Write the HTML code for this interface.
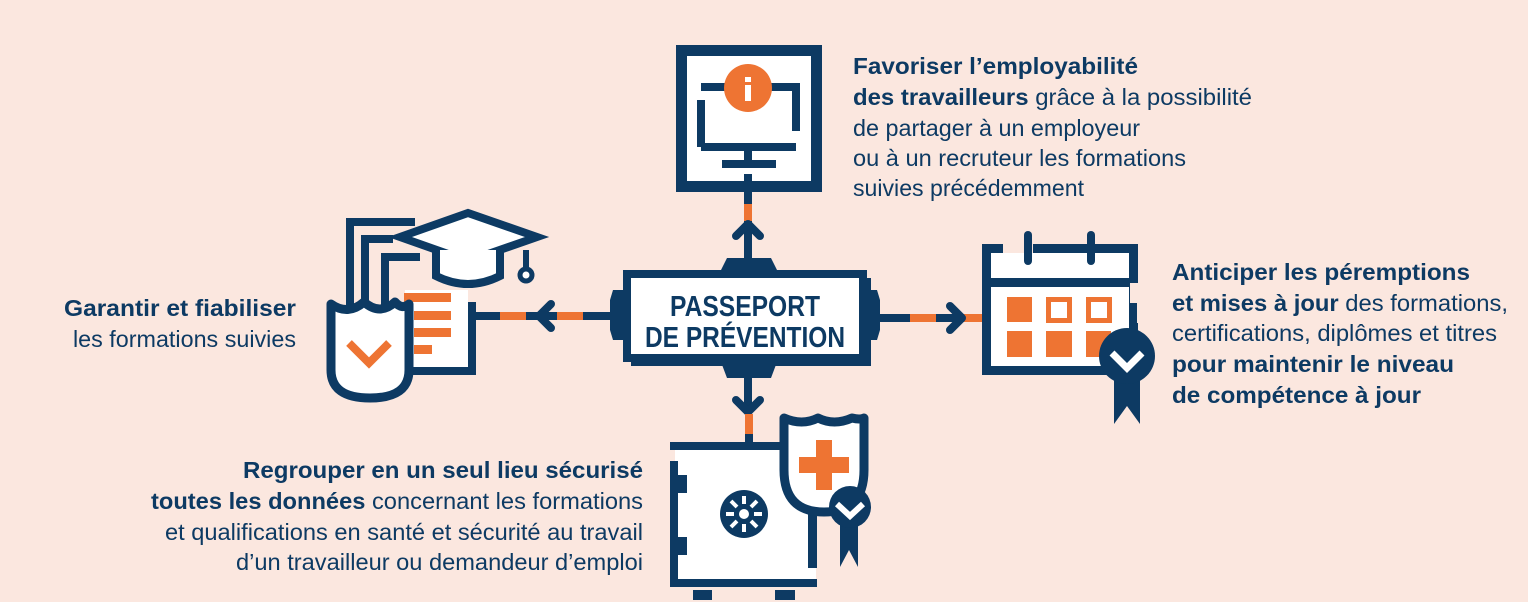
<!DOCTYPE html>
<html><head><meta charset="utf-8"><style>
html,body{margin:0;padding:0;background:#fbe7df;}
svg{display:block}
text{font-family:"Liberation Sans",sans-serif;font-size:23px;fill:#0d3a63;}
.b{font-weight:bold}
</style></head><body>
<svg width="1528" height="602" viewBox="0 0 1528 602" xmlns="http://www.w3.org/2000/svg">
<rect width="1528" height="602" fill="#fbe7df"/>
<g stroke-linecap="butt">
<!-- top monitor -->
<rect x="681.5" y="50.5" width="135" height="136" fill="#fff" stroke="#0d3a63" stroke-width="11"/>
<path d="M701 147 V100 M701 87 H727 M770 87 H796 V131 M701 147 H796" fill="none" stroke="#0d3a63" stroke-width="8"/>
<rect x="744" y="147" width="8" height="17" fill="#0d3a63"/>
<rect x="722" y="160" width="54" height="8" fill="#0d3a63"/>
<rect x="744" y="174" width="8" height="18" fill="#0d3a63"/>
<circle cx="748" cy="88" r="24" fill="#ee7433"/>
<rect x="745" y="77" width="6" height="5" fill="#fff"/><rect x="745" y="85" width="6" height="16" fill="#fff"/>
<!-- top connector -->
<rect x="744" y="192" width="8" height="12" fill="#0d3a63"/>
<rect x="744" y="204" width="8" height="17" fill="#ee7433"/>
<rect x="744" y="221" width="8" height="40" fill="#0d3a63"/>
<path d="M736 236 L748 224 L760 236" fill="none" stroke="#0d3a63" stroke-width="8" stroke-linecap="round" stroke-linejoin="round"/>
<!-- central box -->
<path d="M727 258 H771 L777 270 H721 Z" fill="#0d3a63"/>
<path d="M721 362 H777 L771 378 H727 Z" fill="#0d3a63"/>
<path d="M623 290 H613 L610 300 V330 L613 340 H623 Z" fill="#0d3a63"/>
<path d="M867 290 H877 L880 300 V330 L877 340 H867 Z" fill="#0d3a63"/>
<rect x="596" y="312" width="20" height="8" fill="#0d3a63"/>
<rect x="880" y="314" width="20" height="8" fill="#0d3a63"/>
<rect x="631" y="278" width="240" height="88" fill="#0d3a63"/>
<rect x="627" y="274" width="236" height="84" fill="#fff" stroke="#0d3a63" stroke-width="8"/>
<text x="745" y="316" text-anchor="middle" class="b" style="font-size:29px" textLength="150" lengthAdjust="spacingAndGlyphs">PASSEPORT</text>
<text x="745" y="347" text-anchor="middle" class="b" style="font-size:29px" textLength="200" lengthAdjust="spacingAndGlyphs">DE PRÉVENTION</text>
<!-- left connector -->
<rect x="475" y="312" width="25" height="8" fill="#0d3a63"/>
<rect x="500" y="312" width="26" height="8" fill="#ee7433"/>
<rect x="526" y="312" width="31" height="8" fill="#0d3a63"/>
<rect x="557" y="312" width="26" height="8" fill="#ee7433"/>
<rect x="583" y="312" width="15" height="8" fill="#0d3a63"/>
<path d="M551 304 L539 316 L551 328" fill="none" stroke="#0d3a63" stroke-width="8" stroke-linecap="round" stroke-linejoin="round"/>
<!-- left icon: doc -->
<path d="M350 305 V222 H415 M365 305 V239 H393 M385 305 V257 H420" fill="none" stroke="#0d3a63" stroke-width="8"/>
<path d="M405 290 H468 V368 H405 Z" fill="#fff"/>
<path d="M472 302 V371 H410" fill="none" stroke="#0d3a63" stroke-width="8"/>
<rect x="404" y="293" width="47" height="9" fill="#ee7433"/>
<rect x="414" y="311" width="37" height="9" fill="#ee7433"/>
<rect x="414" y="328" width="37" height="9" fill="#ee7433"/>
<rect x="414" y="345" width="18" height="9" fill="#ee7433"/>
<!-- cap -->
<path d="M400 237 L468 213 L537 237 L468 261 Z" fill="#fff" stroke="#0d3a63" stroke-width="8" stroke-linejoin="miter"/>
<path d="M436 250 V276 Q468 292 500 276 V250" fill="#fff" stroke="#0d3a63" stroke-width="8"/>
<path d="M526 250 V270" stroke="#0d3a63" stroke-width="6"/>
<circle cx="526" cy="275" r="6" fill="#fff" stroke="#0d3a63" stroke-width="5"/>
<!-- shield -->
<path d="M331 304 Q348 316 364 302 Q380 316 395 302 Q402 310 409 304 V370 Q409 398 370 398 Q331 398 331 370 Z" fill="#fff" stroke="#0d3a63" stroke-width="9" stroke-linejoin="round"/>
<path d="M349 343 L369 363 L389 343" fill="none" stroke="#ee7433" stroke-width="8"/>
<!-- right connector -->
<rect x="900" y="314" width="10" height="8" fill="#0d3a63"/>
<rect x="910" y="314" width="26" height="8" fill="#ee7433"/>
<rect x="936" y="314" width="28" height="8" fill="#0d3a63"/>
<rect x="964" y="314" width="18" height="8" fill="#ee7433"/>
<path d="M950 306 L962 318 L950 330" fill="none" stroke="#0d3a63" stroke-width="8" stroke-linecap="round" stroke-linejoin="round"/>
<!-- calendar -->
<rect x="986.5" y="248.5" width="147" height="122" fill="#fff" stroke="#0d3a63" stroke-width="9"/>
<rect x="1003" y="243" width="30" height="10" fill="#fbe7df"/>
<rect x="982" y="278" width="156" height="9" fill="#0d3a63"/>
<line x1="1028" y1="235" x2="1028" y2="261" stroke="#0d3a63" stroke-width="8" stroke-linecap="round"/>
<line x1="1091" y1="235" x2="1091" y2="261" stroke="#0d3a63" stroke-width="8" stroke-linecap="round"/>
<rect x="1007" y="297" width="25" height="25" fill="#ee7433"/>
<rect x="1048.5" y="299.5" width="21" height="21" fill="#fff" stroke="#ee7433" stroke-width="5"/>
<rect x="1088.5" y="299.5" width="21" height="21" fill="#fff" stroke="#ee7433" stroke-width="5"/>
<rect x="1007" y="331" width="25" height="26" fill="#ee7433"/>
<rect x="1046" y="331" width="26" height="26" fill="#ee7433"/>
<rect x="1086" y="331" width="25" height="26" fill="#ee7433"/>
<rect x="1130" y="283" width="10" height="40" fill="#fbe7df"/>
<rect x="1129" y="303" width="8" height="30" fill="#0d3a63"/>
<path d="M1114 370 V424 L1127 406 L1140 424 V370 Z" fill="#0d3a63"/>
<circle cx="1127" cy="356" r="28" fill="#0d3a63"/>
<path d="M1112 353 L1127 368 L1142 353" fill="none" stroke="#fff" stroke-width="7"/>
<!-- bottom connector -->
<rect x="744" y="378" width="8" height="30" fill="#0d3a63"/>
<path d="M736 400 L748 412 L760 400" fill="none" stroke="#0d3a63" stroke-width="8" stroke-linecap="round" stroke-linejoin="round"/>
<rect x="745" y="414" width="8" height="20" fill="#ee7433"/>
<rect x="745" y="434" width="8" height="8" fill="#0d3a63"/>
<!-- safe -->
<rect x="675" y="446" width="141" height="137" fill="#fff"/>
<rect x="670" y="442" width="120" height="8" fill="#0d3a63"/>
<rect x="670" y="461" width="8" height="126" fill="#0d3a63"/>
<rect x="670" y="475" width="17" height="18" fill="#0d3a63"/>
<rect x="670" y="537" width="17" height="18" fill="#0d3a63"/>
<rect x="670" y="579" width="147" height="8" fill="#0d3a63"/>
<rect x="808" y="510" width="9" height="58" fill="#0d3a63"/>
<rect x="693" y="590" width="19" height="10" fill="#0d3a63"/>
<rect x="775" y="590" width="20" height="10" fill="#0d3a63"/>
<circle cx="744" cy="514" r="24" fill="#0d3a63"/>
<g stroke="#fff" stroke-width="4">
<line x1="744" y1="496" x2="744" y2="504"/><line x1="744" y1="524" x2="744" y2="532"/>
<line x1="726" y1="514" x2="734" y2="514"/><line x1="754" y1="514" x2="762" y2="514"/>
<line x1="731" y1="501" x2="737" y2="507"/><line x1="751" y1="521" x2="757" y2="527"/>
<line x1="757" y1="501" x2="751" y2="507"/><line x1="737" y1="521" x2="731" y2="527"/>
</g>
<circle cx="744" cy="514" r="5" fill="#fff"/>
<!-- med shield -->
<path d="M784 418 Q802 426 818 418 Q834 426 852 418 Q860 420 864 418 V470 Q864 512 824 512 Q784 512 784 470 Z" fill="#fff" stroke="#0d3a63" stroke-width="9" stroke-linejoin="round"/>
<rect x="816" y="440" width="16" height="50" fill="#ee7433"/>
<rect x="799" y="457" width="50" height="16" fill="#ee7433"/>
<path d="M840 515 V567 L849 550 L858 567 V515 Z" fill="#0d3a63"/>
<circle cx="850" cy="507" r="21" fill="#0d3a63"/>
<path d="M837 504 L850 516 L863 504" fill="none" stroke="#fff" stroke-width="6"/>
</g>
<!-- texts -->
<text x="853" y="74" class="b" textLength="285" lengthAdjust="spacingAndGlyphs">Favoriser l’employabilité</text>
<text x="853" y="105" textLength="399" lengthAdjust="spacingAndGlyphs"><tspan class="b">des travailleurs</tspan> grâce à la possibilité</text>
<text x="853" y="136" textLength="287" lengthAdjust="spacingAndGlyphs">de partager à un employeur</text>
<text x="853" y="166" textLength="333" lengthAdjust="spacingAndGlyphs">ou à un recruteur les formations</text>
<text x="853" y="196" textLength="231" lengthAdjust="spacingAndGlyphs">suivies précédemment</text>

<text x="1172" y="280" class="b" textLength="298" lengthAdjust="spacingAndGlyphs">Anticiper les péremptions</text>
<text x="1172" y="311" textLength="336" lengthAdjust="spacingAndGlyphs"><tspan class="b">et mises à jour</tspan> des formations,</text>
<text x="1172" y="341" textLength="325" lengthAdjust="spacingAndGlyphs">certifications, diplômes et titres</text>
<text x="1172" y="372" class="b" textLength="282" lengthAdjust="spacingAndGlyphs">pour maintenir le niveau</text>
<text x="1172" y="403" class="b" textLength="249" lengthAdjust="spacingAndGlyphs">de compétence à jour</text>

<text x="64" y="316" class="b" textLength="232" lengthAdjust="spacingAndGlyphs">Garantir et fiabiliser</text>
<text x="73" y="347" textLength="223" lengthAdjust="spacingAndGlyphs">les formations suivies</text>

<text x="243" y="478" class="b" textLength="400" lengthAdjust="spacingAndGlyphs">Regrouper en un seul lieu sécurisé</text>
<text x="151" y="509" textLength="492" lengthAdjust="spacingAndGlyphs"><tspan class="b">toutes les données</tspan> concernant les formations</text>
<text x="165" y="540" textLength="478" lengthAdjust="spacingAndGlyphs">et qualifications en santé et sécurité au travail</text>
<text x="236" y="570" textLength="407" lengthAdjust="spacingAndGlyphs">d’un travailleur ou demandeur d’emploi</text>
</svg>
</body></html>
